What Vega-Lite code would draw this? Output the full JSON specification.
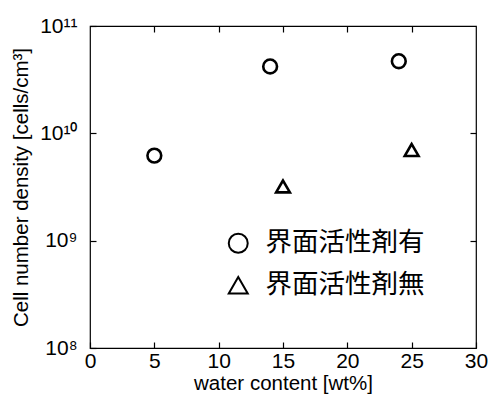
{
  "$schema": "https://vega.github.io/schema/vega-lite/v6.json",
  "autosize": "none",
  "width": 386,
  "height": 322,
  "padding": {"left": 90, "top": 26, "right": 13, "bottom": 46},
  "background": "white",
  "config": {
    "font": "Liberation Sans",
    "view": {"stroke": "black", "strokeWidth": 1.2},
    "axis": {"domain": false, "grid": false, "tickColor": "black", "tickWidth": 1.2, "labelColor": "black", "titleColor": "black"}
  },
  "data": {"values": [
    {"water": 5, "density": 6.2e9, "type": "界面活性剤有"},
    {"water": 14, "density": 4.2e10, "type": "界面活性剤有"},
    {"water": 24, "density": 4.7e10, "type": "界面活性剤有"},
    {"water": 15, "density": 3.2e9, "type": "界面活性剤無"},
    {"water": 25, "density": 7.0e9, "type": "界面活性剤無"}
  ]},
  "layer": [
    {
      "mark": {"type": "point", "filled": false, "stroke": "black", "strokeWidth": 2.6, "size": 190, "opacity": 1},
      "encoding": {
        "x": {"field": "water", "type": "quantitative",
          "scale": {"domain": [0, 30], "nice": false, "zero": false},
          "axis": {"orient": "bottom", "values": [0, 5, 10, 15, 20, 25, 30], "tickSize": -6, "labelPadding": 8, "labelFontSize": 21, "labelFlush": false,
            "title": "water content [wt%]", "titleFontSize": 20.5, "titleFontWeight": "normal", "titlePadding": 2}},
        "y": {"field": "density", "type": "quantitative",
          "scale": {"type": "log", "domain": [1e8, 1e11], "nice": false},
          "axis": {"orient": "left", "values": [1e8, 1e9, 1e10, 1e11], "tickSize": -6, "labelPadding": 19, "labelFontSize": 21, "labelFlush": false,
            "labelExpr": "datum.value < 5e8 ? '10⁸' : datum.value < 5e9 ? '10⁹' : datum.value < 5e10 ? '10¹⁰' : '10¹¹'",
            "title": "Cell number density [cells/cm³]", "titleFontSize": 20.5, "titleFontWeight": "normal", "titlePadding": 8}},
        "shape": {"field": "type", "type": "nominal",
          "scale": {"domain": ["界面活性剤有", "界面活性剤無"], "range": ["circle", "triangle-up"]},
          "legend": {"title": null, "orient": "none", "legendX": 135, "legendY": 204, "padding": 0,
            "symbolSize": 360, "symbolStrokeWidth": 2, "symbolStrokeColor": "black", "symbolFillColor": "transparent",
            "labelFont": "Noto Sans CJK JP", "labelFontSize": 26.5, "labelColor": "black", "labelOffset": 14, "rowPadding": 15}}
      }
    },
    {
      "mark": {"type": "point", "opacity": 0},
      "encoding": {
        "x": {"field": "water", "type": "quantitative",
          "axis": {"orient": "top", "values": [5, 10, 15, 20, 25], "tickSize": -6, "labels": false, "title": null}},
        "y": {"field": "density", "type": "quantitative", "scale": {"type": "log"},
          "axis": {"orient": "right", "values": [1e9, 1e10], "tickSize": -6, "labels": false, "title": null}}
      }
    }
  ],
  "resolve": {"axis": {"x": "independent", "y": "independent"}}
}
